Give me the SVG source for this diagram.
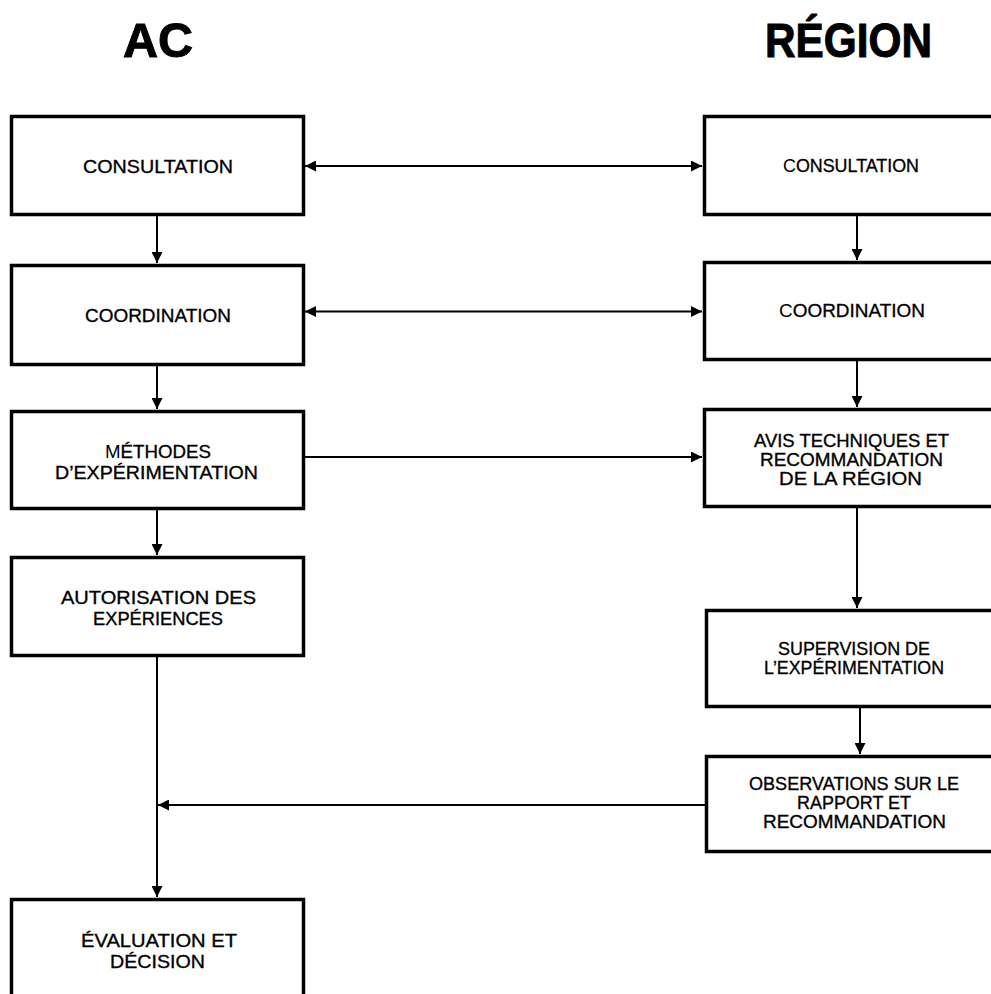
<svg xmlns="http://www.w3.org/2000/svg" width="991" height="994" viewBox="0 0 991 994">
<style>
.box{fill:#fff;stroke:#000;stroke-width:3.5}
.t{font-family:"Liberation Sans",Arial,sans-serif;font-size:19px;fill:#000;stroke:#000;stroke-width:0.35}
.thin{stroke:none}
.title{font-family:"Liberation Sans",Arial,sans-serif;font-size:49px;font-weight:bold;fill:#000;stroke:#000;stroke-width:1}
.c{fill:none;stroke:#000;stroke-width:2}
</style>
<defs>
<marker id="ah" viewBox="0 0 10 10" refX="10" refY="5" markerWidth="11" markerHeight="11" markerUnits="userSpaceOnUse" orient="auto-start-reverse">
<path d="M0,0 L10,5 L0,10 z" fill="#000"/>
</marker>
</defs>
<rect width="991" height="994" fill="#fff"/>
<text class="title" x="123" y="57" textLength="70" lengthAdjust="spacingAndGlyphs">AC</text>
<text class="title" x="765" y="57" textLength="167" lengthAdjust="spacingAndGlyphs">RÉGION</text>

<g id="connectors">
<path class="c" d="M157,216 V263" marker-end="url(#ah)"/>
<path class="c" d="M157,366 V409" marker-end="url(#ah)"/>
<path class="c" d="M157,510 V555" marker-end="url(#ah)"/>
<path class="c" d="M157,657 V897" marker-end="url(#ah)"/>
<path class="c" d="M857,216 V260" marker-end="url(#ah)"/>
<path class="c" d="M857,361 V407" marker-end="url(#ah)"/>
<path class="c" d="M857,508 V608" marker-end="url(#ah)"/>
<path class="c" d="M860,708 V754" marker-end="url(#ah)"/>
<path class="c" d="M305,166 H702" marker-start="url(#ah)" marker-end="url(#ah)"/>
<path class="c" d="M305,311.5 H702" marker-start="url(#ah)" marker-end="url(#ah)"/>
<path class="c" d="M305,457 H702" marker-end="url(#ah)"/>
<path class="c" d="M705,805 H158" marker-end="url(#ah)"/>
</g>

<g id="ac-consultation">
<rect class="box" x="11.5" y="116.5" width="292" height="98"/>
<text class="t" x="83" y="173" textLength="150" lengthAdjust="spacingAndGlyphs">CONSULTATION</text>
</g>
<g id="ac-coordination">
<rect class="box" x="11.5" y="265.5" width="292" height="99"/>
<text class="t" x="85" y="322" textLength="146" lengthAdjust="spacingAndGlyphs">COORDINATION</text>
</g>
<g id="ac-methodes">
<rect class="box" x="11.5" y="411.5" width="292" height="97"/>
<text class="t" x="105" y="458" textLength="106" lengthAdjust="spacingAndGlyphs"><tspan class="thin">M</tspan>ÉTHODES</text>
<text class="t" x="55" y="479" textLength="203" lengthAdjust="spacingAndGlyphs">D’EXPÉRIMENTATION</text>
</g>
<g id="ac-autorisation">
<rect class="box" x="11.5" y="557.5" width="292" height="98"/>
<text class="t" x="61" y="604" textLength="195" lengthAdjust="spacingAndGlyphs">AUTORISATION DES</text>
<text class="t" x="93" y="625" textLength="130" lengthAdjust="spacingAndGlyphs">EXPÉRIENCES</text>
</g>
<g id="ac-evaluation">
<rect class="box" x="11.5" y="899.5" width="292" height="110"/>
<text class="t" x="81" y="947" textLength="156" lengthAdjust="spacingAndGlyphs">ÉVALUATION ET</text>
<text class="t" x="110" y="968" textLength="95" lengthAdjust="spacingAndGlyphs">DÉCISION</text>
</g>

<g id="region-consultation">
<rect class="box" x="704.5" y="116.5" width="300" height="98"/>
<text class="t" x="783" y="172" textLength="136" lengthAdjust="spacingAndGlyphs"><tspan class="thin">C</tspan>ONSULTATION</text>
</g>
<g id="region-coordination">
<rect class="box" x="704.5" y="262.5" width="300" height="97"/>
<text class="t" x="779" y="317" textLength="146" lengthAdjust="spacingAndGlyphs"><tspan class="thin">C</tspan>OORDINATION</text>
</g>
<g id="region-avis">
<rect class="box" x="704.5" y="409.5" width="300" height="97"/>
<text class="t" x="754" y="447" textLength="195" lengthAdjust="spacingAndGlyphs">AVIS TECHNIQUES ET</text>
<text class="t" x="760" y="466" textLength="183" lengthAdjust="spacingAndGlyphs">RECOMMANDATION</text>
<text class="t" x="779" y="485" textLength="143" lengthAdjust="spacingAndGlyphs">DE LA RÉGION</text>
</g>
<g id="region-supervision">
<rect class="box" x="706.5" y="610.5" width="300" height="96"/>
<text class="t" x="778" y="655" textLength="152" lengthAdjust="spacingAndGlyphs">SUPERVISION DE</text>
<text class="t" x="764" y="674" textLength="180" lengthAdjust="spacingAndGlyphs">L’EXPÉRIMENTATION</text>
</g>
<g id="region-observations">
<rect class="box" x="706.5" y="756.5" width="300" height="95"/>
<text class="t" x="749" y="790" textLength="210" lengthAdjust="spacingAndGlyphs">OBSERVATIONS SUR LE</text>
<text class="t" x="797" y="809" textLength="114" lengthAdjust="spacingAndGlyphs">RAPPORT ET</text>
<text class="t" x="763" y="828" textLength="183" lengthAdjust="spacingAndGlyphs">RECOMMANDATION</text>
</g>
</svg>
